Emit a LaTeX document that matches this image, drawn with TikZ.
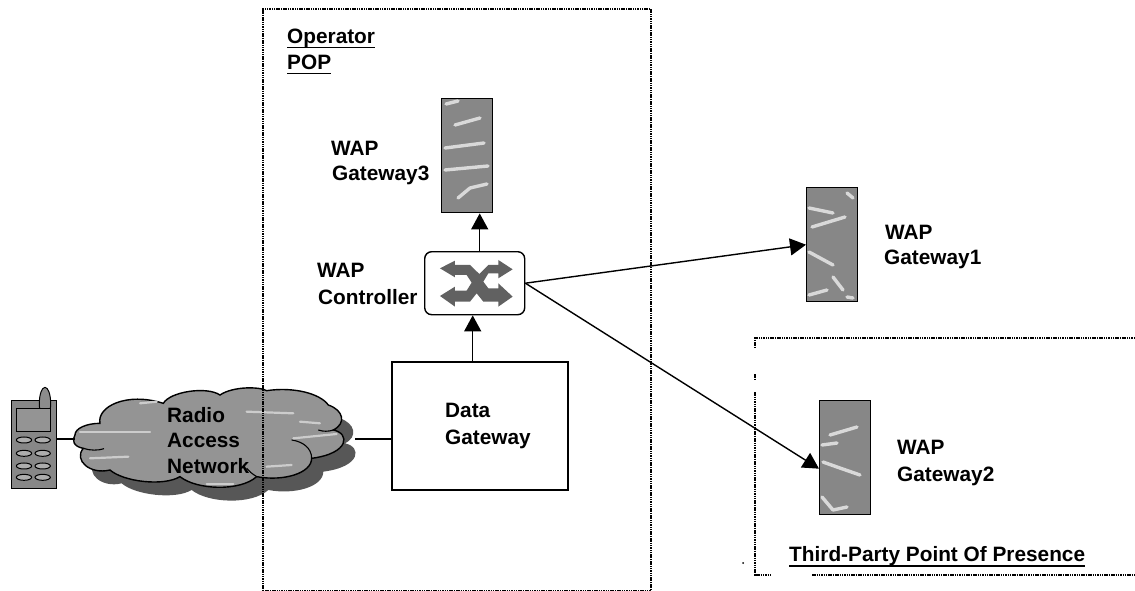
\documentclass[tikz,border=0pt]{standalone}
\usepackage{fontspec}
\setmainfont{Liberation Sans}
\usetikzlibrary{arrows.meta,calc}
\tikzset{
  halftone/.style={fill=black!47},
  gwbox/.style={draw=black,line width=1.4pt,halftone,minimum width=51pt,minimum height=114pt,inner sep=0pt,anchor=north west},
  streak/.style={draw=white!85!black,line width=3.4pt,line cap=round,line join=round},
  dotbox/.style={draw=black,line width=1.7pt,dash pattern=on 1.5pt off 0.8pt},
  lbl/.style={font=\fontsize{20.8}{24}\bfseries\selectfont,inner sep=0pt,anchor=base west,text=black},
  ul/.style={line width=1.6pt,black},
  link/.style={line width=1.4pt,draw=black},
  arr/.style={link,-{Triangle[length=16pt,width=17pt]}},
  zoomA/.style={shift={(0pt,-360pt)},x=0.3333pt,y=-0.3333pt},
}
\def\cloudpath{(225,225) .. controls (225,205) and (260,190) .. (300,190)
 .. controls (290,140) and (380,95) .. (490,130)
 .. controls (510,95) and (620,78) .. (660,105)
 .. controls (700,78) and (780,80) .. (800,92)
 .. controls (880,80) and (960,100) .. (985,135)
 .. controls (1030,150) and (1040,190) .. (1000,210)
 .. controls (1050,220) and (1050,280) .. (935,295)
 .. controls (935,340) and (850,365) .. (770,350)
 .. controls (720,395) and (590,390) .. (540,350)
 .. controls (490,380) and (370,365) .. (330,330)
 .. controls (270,345) and (220,300) .. (250,265)
 .. controls (220,260) and (215,240) .. (225,225) -- cycle}
\begin{document}
\begin{tikzpicture}[x=1pt,y=-1pt]
\useasboundingbox (0,0) rectangle (1135,591);

% phone
\node[draw=black,line width=1pt,halftone,minimum width=45pt,minimum height=88pt,inner sep=0pt,anchor=north west] (phone) at (11,400) {};
\begin{scope}[zoomA]
  \draw[black,line width=1pt,fill=black!45] (135,130) ellipse [x radius=17,y radius=48];
  \draw[black,line width=0.8pt,fill=black!42] (50,145) rectangle (150,215);
  \foreach \yy in {240,280,318,352}
    \foreach \xx in {72,128}
      \draw[black,line width=1pt,fill=black!32] (\xx,\yy) ellipse [x radius=23,y radius=9];
\end{scope}

% cloud
\begin{scope}[zoomA]
  \fill[black!66,shift={(35,40)}] \cloudpath;
  \draw[black,line width=1.4pt,fill=black!42] \cloudpath;
  \draw[black,line width=1.1pt] (250,265) .. controls (270,272) and (295,272) .. (312,266);
  \draw[black,line width=1.1pt] (1000,210) .. controls (985,215) and (970,215) .. (955,210);
  \draw[black,line width=1.1pt] (875,240) .. controls (910,245) and (935,265) .. (935,295);
  \draw[black,line width=1.1pt] (770,350) .. controls (755,340) and (748,335) .. (740,325);
  \foreach \pts in {{(240,215)--(450,215)},{(270,295)--(385,290)},{(740,155)--(880,160)},{(880,235)--(1010,222)},{(800,320)--(875,315)},{(620,372)--(700,372)},{(420,130)--(470,125)},{(900,185)--(960,190)}}
    \draw[white!80!black,line width=2.2pt,line cap=round] \pts;
\end{scope}
\node[minimum width=271pt,minimum height=105pt,inner sep=0pt,anchor=north west] (cloud) at (74,388) {};

% boxes
\node[draw=black,line width=1.6pt,fill=white,minimum width=176pt,minimum height=128pt,inner sep=0pt,anchor=north west] (data) at (391,361) {};
\node[gwbox] (gw3) at (441,98) {};
\node[gwbox] (gw1) at (806,187) {};
\node[gwbox] (gw2) at (819,400) {};
\node[draw=black,line width=1.4pt,fill=white,rounded corners=7pt,minimum width=100pt,minimum height=63pt,inner sep=0pt,anchor=north west] (ctrl) at (424,251) {};

% switch icon
\begin{scope}[shift={(320pt,-80pt)},x=0.3333pt,y=-0.3333pt]
  \fill[black!62] (360,565)--(405,542)--(405,555)--(450,555)--(478,582)--(505,555)--(535,555)--(535,540)--(578,568)--(535,595)--(535,580)--(505,580)--(490,605)--(505,625)--(535,625)--(535,610)--(578,650)--(535,680)--(535,665)--(490,665)--(470,640)--(450,665)--(405,665)--(405,680)--(360,648)--(405,620)--(405,632)--(440,632)--(455,608)--(440,585)--(405,585)--(405,592)--cycle;
\end{scope}

% streaks in the gateways
\draw[streak] (446,104)--(458,101);
\draw[streak] (455,125)--(480,118);
\draw[streak] (445,148)--(484,143);
\draw[streak] (445,170)--(488,166);
\draw[streak] (458,198)--(470,188)--(487,184);
\draw[streak] (809,208)--(833,213);
\draw[streak] (812,227)--(845,217);
\draw[streak] (809,252)--(833,265);
\draw[streak] (833,277)--(843,290);
\draw[streak] (809,295)--(827,290);
\draw[streak] (847,193)--(853,198);
\draw[streak] (847,297)--(853,298);
\draw[streak] (830,435)--(857,427);
\draw[streak] (822,445)--(837,443);
\draw[streak] (823,462)--(837,467)--(860,475);
\draw[streak] (822,497)--(833,510)--(847,507);

% dotted regions
\node[dotbox,minimum width=388pt,minimum height=582pt,inner sep=0pt,anchor=north west] (oppop) at (262,8) {};
\draw[dotbox] (1135,338) -- (755,338) -- (755,348);
\draw[dotbox] (755,374) -- (755,380);
\draw[dotbox] (755,392) -- (755,575) -- (770,575);
\draw[dotbox] (812,575) -- (1135,575);
\fill[black] (743,563) circle (1pt);

% connectors
\draw[link] (56,439) -- (75,439);
\draw[link] (355,439) -- (data.west |- 0,439);
\draw[arr] ([xshift=5pt]ctrl.north) -- ([xshift=5pt]ctrl.north |- gw3.south);
\draw[arr] ([xshift=-2pt]data.north -| ctrl.south) -- ([xshift=-2pt]ctrl.south);
\draw[arr] (ctrl.east) -- (gw1.west);
\draw[arr] (ctrl.east) -- ([yshift=-11pt]gw2.west);

% labels
\node[lbl] (wap3) at (331,155) {WAP};
\node[lbl] (gwt3) at (332,180) {Gateway3};
\node[lbl] (wapc) at (317,277) {WAP};
\node[lbl] (cont) at (318,304) {Controller};
\node[lbl] (wap1) at (885,239) {WAP};
\node[lbl] (gwt1) at (884,264) {Gateway1};
\node[lbl] (wap2) at (897,454) {WAP};
\node[lbl] (gwt2) at (897,481) {Gateway2};
\node[lbl] (dat1) at (445,417) {Data};
\node[lbl] (dat2) at (445,444) {Gateway};
\node[lbl] (rad1) at (167,422) {Radio};
\node[lbl] (rad2) at (167,447) {Access};
\node[lbl] (rad3) at (167,473) {Network};
\node[lbl] (op1) at (287,44) {Operator};
\node[lbl] (op2) at (287,70) {POP};
\node[lbl] (tp) at (789,561) {Third-Party Point Of Presence};
\draw[ul] ([yshift=-3.5pt]op1.base west) -- ([yshift=-3.5pt]op1.base east);
\draw[ul] ([yshift=-3.5pt]op2.base west) -- ([yshift=-3.5pt]op2.base east);
\draw[ul] ([yshift=-5pt]tp.base west) -- ([yshift=-5pt]tp.base east);
\end{tikzpicture}
\end{document}
